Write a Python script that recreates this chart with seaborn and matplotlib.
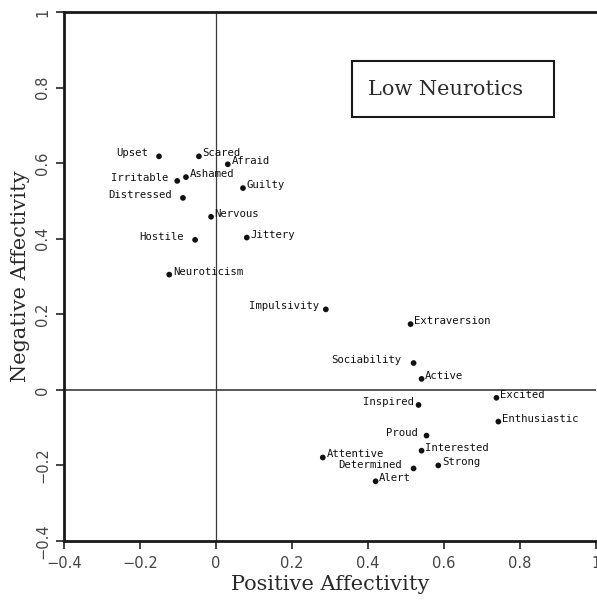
import matplotlib
matplotlib.use("Agg")
import matplotlib.pyplot as plt
from matplotlib.patches import Rectangle
import seaborn as sns
import pandas as pd

# Mood terms and trait scales placed on the two affectivity factors
terms = ["Upset", "Scared", "Afraid", "Ashamed", "Irritable", "Guilty",
         "Distressed", "Nervous", "Hostile", "Jittery", "Neuroticism",
         "Impulsivity", "Extraversion", "Sociability", "Active", "Excited",
         "Inspired", "Enthusiastic", "Proud", "Interested", "Attentive",
         "Determined", "Strong", "Alert"]
positive_affectivity = [-0.150, -0.045, 0.031, -0.079, -0.102, 0.071,
                        -0.087, -0.013, -0.055, 0.081, -0.123,
                        0.289, 0.512, 0.520, 0.541, 0.738,
                        0.533, 0.743, 0.554, 0.541, 0.281,
                        0.520, 0.585, 0.420]
negative_affectivity = [0.618, 0.618, 0.597, 0.563, 0.553, 0.534,
                        0.508, 0.458, 0.397, 0.403, 0.305,
                        0.213, 0.174, 0.071, 0.029, -0.021,
                        -0.040, -0.084, -0.121, -0.161, -0.179,
                        -0.208, -0.200, -0.242]
tick_values = [-0.4, -0.2, 0, 0.2, 0.4, 0.6, 0.8, 1.0]
tick_labels = ["\u22120.4", "\u22120.2", "0", "0.2", "0.4", "0.6", "0.8", "1"]
group_title = "Low Neurotics"

df = pd.DataFrame({"term": terms,
                   "PA": positive_affectivity,
                   "NA": negative_affectivity})

sns.set_style("ticks")
plt.rcParams["font.family"] = ["DejaVu Sans"]

fig = plt.figure(figsize=(5.97, 6.02), dpi=100)
ax = fig.add_axes([64 / 597, 61 / 602, 532 / 597, 529 / 602])

# reference axes through the origin
ax.axhline(0, color="#2a2a2a", lw=1.1, zorder=1)
ax.axvline(0, color="#3a3a3a", lw=0.9, zorder=1)

sns.scatterplot(data=df, x="PA", y="NA", ax=ax, color="#111111",
                s=17, edgecolor="none", zorder=3, legend=False)

# labels written to the left of their point; value is the gap in points
left_gap = {"Upset": 8, "Irritable": 6.5, "Distressed": 8, "Hostile": 8,
            "Impulsivity": 4.5, "Sociability": 8.5, "Inspired": 3,
            "Proud": 6.5, "Determined": 8}

for name, xv, yv in zip(df["term"], df["PA"], df["NA"]):
    if name in left_gap:
        ax.annotate(name, (xv, yv), xytext=(-left_gap[name], 2.2),
                    textcoords="offset points", ha="right", va="center",
                    fontsize=7.7, family="DejaVu Sans Mono", color="#111111")
    else:
        ax.annotate(name, (xv, yv), xytext=(2.6, 2.2),
                    textcoords="offset points", ha="left", va="center",
                    fontsize=7.7, family="DejaVu Sans Mono", color="#111111")

ax.set_xlim(-0.4, 1.0)
ax.set_ylim(-0.4, 1.0)
ax.set_xticks(tick_values)
ax.set_xticklabels(tick_labels)
ax.set_yticks(tick_values)
ax.set_yticklabels(tick_labels, rotation=90, va="center")
ax.tick_params(axis="both", direction="out", length=6, width=1.2,
               labelsize=10.5, labelcolor="#444444", color="#222222")
ax.tick_params(axis="x", pad=5)
ax.tick_params(axis="y", pad=4)

for side in ("left", "bottom", "top"):
    ax.spines[side].set_linewidth(2.0)
    ax.spines[side].set_color("#1a1a1a")
ax.spines["right"].set_visible(False)

ax.set_xlabel("Positive Affectivity", family="DejaVu Serif", fontsize=15,
              color="#2a2a2a", labelpad=3)
ax.set_ylabel("Negative Affectivity", family="DejaVu Serif", fontsize=15,
              color="#2a2a2a", labelpad=4)

# group title in an outlined box
ax.add_patch(Rectangle((0.542, 0.802), 0.379, 0.106, transform=ax.transAxes,
                       fill=False, edgecolor="#1a1a1a", lw=1.5, zorder=4))
ax.text(0.718, 0.853, group_title, transform=ax.transAxes, ha="center",
        va="center", family="DejaVu Serif", fontsize=15, color="#2a2a2a")

fig.savefig("out.png", dpi=100, facecolor="white")
